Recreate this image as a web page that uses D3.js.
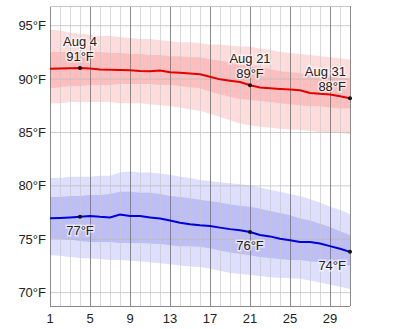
<!DOCTYPE html>
<html lang="en">
<head>
<meta charset="UTF-8">
<title>August temperatures</title>
<script src="https://d3js.org/d3.v7.min.js"></script>
<style>
  body { margin: 0; background: #fff; }
  svg { font-family: "Liberation Sans", Arial, sans-serif; font-size: 13px; }
</style>
</head>
<body>
<div id="chart"></div>
<script>
// day of month
const days = d3.range(1, 32);

// average daily high (red line)
const highMean = [90.93, 90.95, 90.97, 91.0, 90.95, 90.85, 90.82, 90.8, 90.78, 90.72, 90.7, 90.75, 90.6, 90.55, 90.47, 90.4,
  90.17, 89.93, 89.8, 89.68, 89.37, 89.16, 89.1, 89.03, 88.97, 88.9, 88.65, 88.58, 88.5, 88.34, 88.16];
// high percentile bands
const high90 = [94.6, 94.5, 94.3, 94.2, 94.1, 94.0, 94.0, 93.9, 93.8, 93.7, 93.7, 93.6, 93.5, 93.4, 93.4, 93.3,
  93.2, 93.2, 93.1, 93.0, 93.0, 92.8, 92.7, 92.5, 92.4, 92.3, 92.2, 92.1, 92.0, 91.9, 91.8];
const high75 = [92.5, 92.5, 92.5, 92.5, 92.5, 92.5, 92.4, 92.4, 92.3, 92.3, 92.2, 92.2, 92.1, 92.1, 92.0, 92.0,
  91.8, 91.7, 91.5, 91.3, 91.2, 91.1, 90.9, 90.7, 90.6, 90.5, 90.4, 90.3, 90.2, 90.1, 90.0];
const high25 = [89.1, 89.2, 89.3, 89.3, 89.4, 89.4, 89.4, 89.5, 89.5, 89.5, 89.5, 89.4, 89.4, 89.3, 89.2, 89.1,
  88.8, 88.5, 88.3, 88.1, 88.0, 87.9, 87.8, 87.7, 87.6, 87.5, 87.4, 87.4, 87.3, 87.2, 87.2];
const high10 = [87.7, 87.7, 87.8, 87.8, 87.8, 87.8, 87.8, 87.7, 87.7, 87.7, 87.6, 87.5, 87.4, 87.3, 87.1, 87.0,
  86.7, 86.4, 86.1, 85.8, 85.6, 85.5, 85.4, 85.3, 85.2, 85.2, 85.1, 85.0, 85.0, 84.9, 84.8];

// average daily low (blue line)
const lowMean = [76.92, 76.95, 77.0, 77.07, 77.14, 77.05, 77.0, 77.26, 77.14, 77.12, 77.0, 76.89, 76.7, 76.5, 76.36, 76.26,
  76.2, 76.04, 75.9, 75.8, 75.63, 75.35, 75.22, 75.0, 74.85, 74.69, 74.69, 74.56, 74.31, 74.06, 73.77];
const low90 = [80.7, 80.7, 80.8, 80.8, 80.8, 80.9, 80.9, 81.2, 81.3, 81.2, 81.2, 81.1, 81.0, 80.8, 80.7, 80.5,
  80.4, 80.3, 80.2, 80.1, 80.0, 79.8, 79.6, 79.4, 79.2, 79.0, 78.7, 78.4, 78.0, 77.7, 77.3];
const low75 = [78.9, 78.9, 79.0, 79.0, 79.1, 79.1, 79.2, 79.4, 79.4, 79.3, 79.3, 79.2, 79.0, 78.9, 78.8, 78.65,
  78.5, 78.4, 78.2, 78.1, 78.0, 77.8, 77.6, 77.4, 77.2, 76.9, 76.7, 76.4, 76.1, 75.7, 75.35];
const low25 = [75.0, 75.0, 74.9, 74.8, 74.7, 74.7, 74.7, 74.6, 74.6, 74.6, 74.55, 74.5, 74.4, 74.3, 74.3, 74.25,
  74.1, 73.9, 73.7, 73.6, 73.45, 73.3, 73.2, 73.1, 73.0, 73.0, 72.9, 72.8, 72.7, 72.6, 72.5];
const low10 = [73.45, 73.4, 73.3, 73.2, 73.15, 73.1, 73.0, 73.0, 72.95, 72.9, 72.8, 72.7, 72.6, 72.5, 72.4, 72.35,
  72.2, 72.0, 71.8, 71.7, 71.6, 71.5, 71.4, 71.35, 71.3, 71.25, 71.1, 70.9, 70.7, 70.5, 70.3];

// ticks and annotations
const yTicks = [70, 75, 80, 85, 90, 95];
const xTicks = [1, 5, 9, 13, 17, 21, 25, 29];
const highNotes = [{ day: 4, label: "Aug 4" }, { day: 21, label: "Aug 21" }, { day: 31, label: "Aug 31" }];
const lowNotes = [4, 21, 31];

const width = 400, height = 329;
const svg = d3.select("#chart").append("svg")
  .attr("width", width)
  .attr("height", height);

const x = d3.scaleLinear().domain([1, 31]).range([50, 350]);
const y = d3.scaleLinear().domain([68.7, 96.8]).range([306, 6]);

// bands
const band = (lo, hi) => d3.area()
  .x((d, i) => x(days[i]))
  .y0((d, i) => y(lo[i]))
  .y1((d, i) => y(hi[i]))(days);

svg.append("path").attr("d", band(high10, high90)).attr("fill", "#ffdcdc");
svg.append("path").attr("d", band(high25, high75)).attr("fill", "#ffbdbd");
svg.append("path").attr("d", band(low10, low90)).attr("fill", "#dedeff");
svg.append("path").attr("d", band(low25, low75)).attr("fill", "#bdbdf8");

// grid
const grid = svg.append("g");
grid.selectAll(".hgrid")
  .data(yTicks)
  .enter().append("line")
  .attr("x1", x(1)).attr("x2", x(31))
  .attr("y1", d => y(d) + 0.5).attr("y2", d => y(d) + 0.5)
  .attr("stroke", "#b8b8b8").attr("stroke-opacity", 0.7);

grid.selectAll(".vgrid")
  .data(days)
  .enter().append("line")
  .attr("x1", d => x(d) + 0.5).attr("x2", d => x(d) + 0.5)
  .attr("y1", 6).attr("y2", 306)
  .attr("stroke", d => (d - 1) % 4 === 0 || d === 31 ? "#777" : "#c8c8c8")
  .attr("stroke-opacity", d => (d - 1) % 4 === 0 || d === 31 ? 0.85 : 0.7);

grid.append("line")
  .attr("x1", x(1)).attr("x2", x(31))
  .attr("y1", 6.5).attr("y2", 6.5)
  .attr("stroke", "#c8c8c8");
grid.append("line")
  .attr("x1", x(1)).attr("x2", x(31))
  .attr("y1", 306.5).attr("y2", 306.5)
  .attr("stroke", "#888");

// mean lines
const line = d3.line().x((d, i) => x(days[i])).y(d => y(d));
svg.append("path").datum(highMean).attr("d", line)
  .attr("fill", "none").attr("stroke", "#e00000").attr("stroke-width", 2);
svg.append("path").datum(lowMean).attr("d", line)
  .attr("fill", "none").attr("stroke", "#0000d8").attr("stroke-width", 2);

// axis labels
svg.selectAll(".ylab")
  .data(yTicks)
  .enter().append("text")
  .attr("x", 46)
  .attr("y", d => y(d) + 5)
  .attr("text-anchor", "end")
  .attr("fill", "#222")
  .text(d => d + "°F");

svg.selectAll(".xlab")
  .data(xTicks)
  .enter().append("text")
  .attr("x", d => x(d))
  .attr("y", 323)
  .attr("text-anchor", "middle")
  .attr("fill", "#222")
  .text(d => d);

// annotations
const anchorFor = d => d === 31 ? "end" : "middle";
const xFor = d => d === 31 ? x(d) - 4 : x(d);

function note(px, py, txt, anchor) {
  svg.append("text")
    .attr("x", px).attr("y", py)
    .attr("text-anchor", anchor)
    .attr("fill", "#222")
    .attr("stroke", "#fff").attr("stroke-width", 3).attr("stroke-opacity", 0.6)
    .attr("paint-order", "stroke")
    .text(txt);
}

highNotes.forEach(n => {
  const v = highMean[n.day - 1];
  svg.append("circle").attr("cx", x(n.day)).attr("cy", y(v)).attr("r", 2).attr("fill", "#111");
  note(xFor(n.day), y(v) - 22, n.label, anchorFor(n.day));
  note(xFor(n.day), y(v) - 7, Math.round(v) + "°F", anchorFor(n.day));
});

lowNotes.forEach(d => {
  const v = lowMean[d - 1];
  svg.append("circle").attr("cx", x(d)).attr("cy", y(v)).attr("r", 2).attr("fill", "#111");
  note(xFor(d), y(v) + 18, Math.round(v) + "°F", anchorFor(d));
});
</script>
</body>
</html>
